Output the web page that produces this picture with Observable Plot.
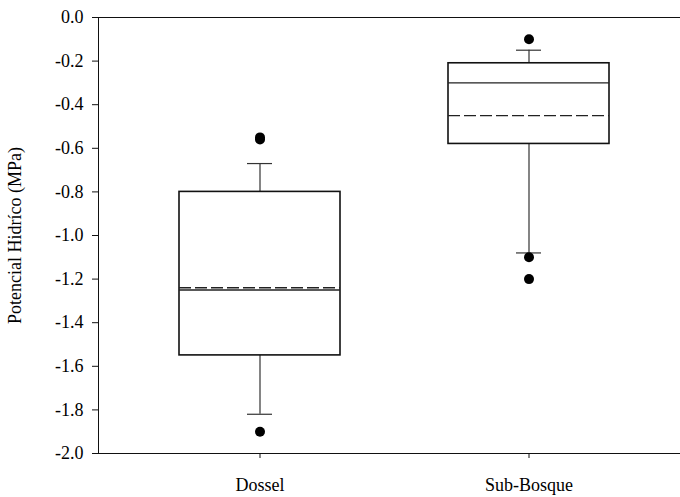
<!DOCTYPE html>
<html>
<head>
<meta charset="utf-8">
<script src="https://cdn.jsdelivr.net/npm/d3@7"></script>
<script src="https://cdn.jsdelivr.net/npm/@observablehq/plot@0.6"></script>
<style>
  html, body { margin: 0; padding: 0; background: #fff; overflow: hidden; }
</style>
</head>
<body>
<div id="chart"></div>
<script>
const categories = ["Dossel", "Sub-Bosque"];
const q1 = [-1.55, -0.58];
const q3 = [-0.80, -0.21];
const median = [-1.25, -0.30];
const mean = [-1.24, -0.45];
const whiskerLow = [-1.82, -1.08];
const whiskerHigh = [-0.67, -0.15];
const outlierCat = ["Dossel", "Dossel", "Dossel", "Sub-Bosque", "Sub-Bosque", "Sub-Bosque"];
const outlierVal = [-0.55, -0.56, -1.90, -0.10, -1.10, -1.20];
const yTicks = [0.0, -0.2, -0.4, -0.6, -0.8, -1.0, -1.2, -1.4, -1.6, -1.8, -2.0];

const boxes = categories.map((c, i) => ({
  cat: c, q1: q1[i], q3: q3[i], median: median[i], mean: mean[i],
  lo: whiskerLow[i], hi: whiskerHigh[i]
}));
const outliers = outlierCat.map((c, i) => ({cat: c, v: outlierVal[i]}));

const ink = "#111";
const chart = Plot.plot({
  width: 680,
  height: 497,
  marginLeft: 98,
  marginRight: 0,
  marginTop: 17,
  marginBottom: 44,
  style: {fontFamily: "'Liberation Serif', 'Times New Roman', serif", fontSize: "18px", color: "#000", background: "#fff"},
  x: {type: "band", domain: categories, range: [98, 691], paddingInner: 0.4, paddingOuter: 0.3},
  y: {domain: [-2, 0], label: null},
  marks: [
    Plot.ruleY([0, -2], {stroke: ink, strokeWidth: 1}),
    Plot.frame({anchor: "left", stroke: ink, strokeWidth: 1}),
    Plot.axisY({ticks: yTicks, tickFormat: d => d.toFixed(1), tickSize: 6, tickPadding: 9, fontSize: 18, stroke: ink,
      label: "Potencial Hidríco (MPa)", labelAnchor: "center", labelArrow: "none", labelOffset: 90}),
    Plot.axisX({tickSize: 5, tickPadding: 20, fontSize: 18, label: null, stroke: ink}),
    Plot.ruleX(boxes, {x: "cat", y1: "q3", y2: "hi", stroke: "#333", strokeWidth: 1.2}),
    Plot.ruleX(boxes, {x: "cat", y1: "q1", y2: "lo", stroke: "#333", strokeWidth: 1.2}),
    Plot.tickY(boxes, {x: "cat", y: "hi", insetLeft: 68, insetRight: 68, stroke: "#333", strokeWidth: 1.2}),
    Plot.tickY(boxes, {x: "cat", y: "lo", insetLeft: 68, insetRight: 68, stroke: "#333", strokeWidth: 1.2}),
    Plot.barY(boxes, {x: "cat", y1: "q1", y2: "q3", fill: "white", stroke: ink, strokeWidth: 1.6}),
    Plot.tickY(boxes, {x: "cat", y: "median", stroke: "#222", strokeWidth: 1.4}),
    Plot.tickY(boxes, {x: "cat", y: "mean", stroke: "#222", strokeWidth: 1.4, strokeDasharray: "12,4"}),
    Plot.dot(outliers, {x: "cat", y: "v", r: 5, fill: "black", stroke: "none"})
  ]
});
document.getElementById("chart").appendChild(chart);
</script>
</body>
</html>
